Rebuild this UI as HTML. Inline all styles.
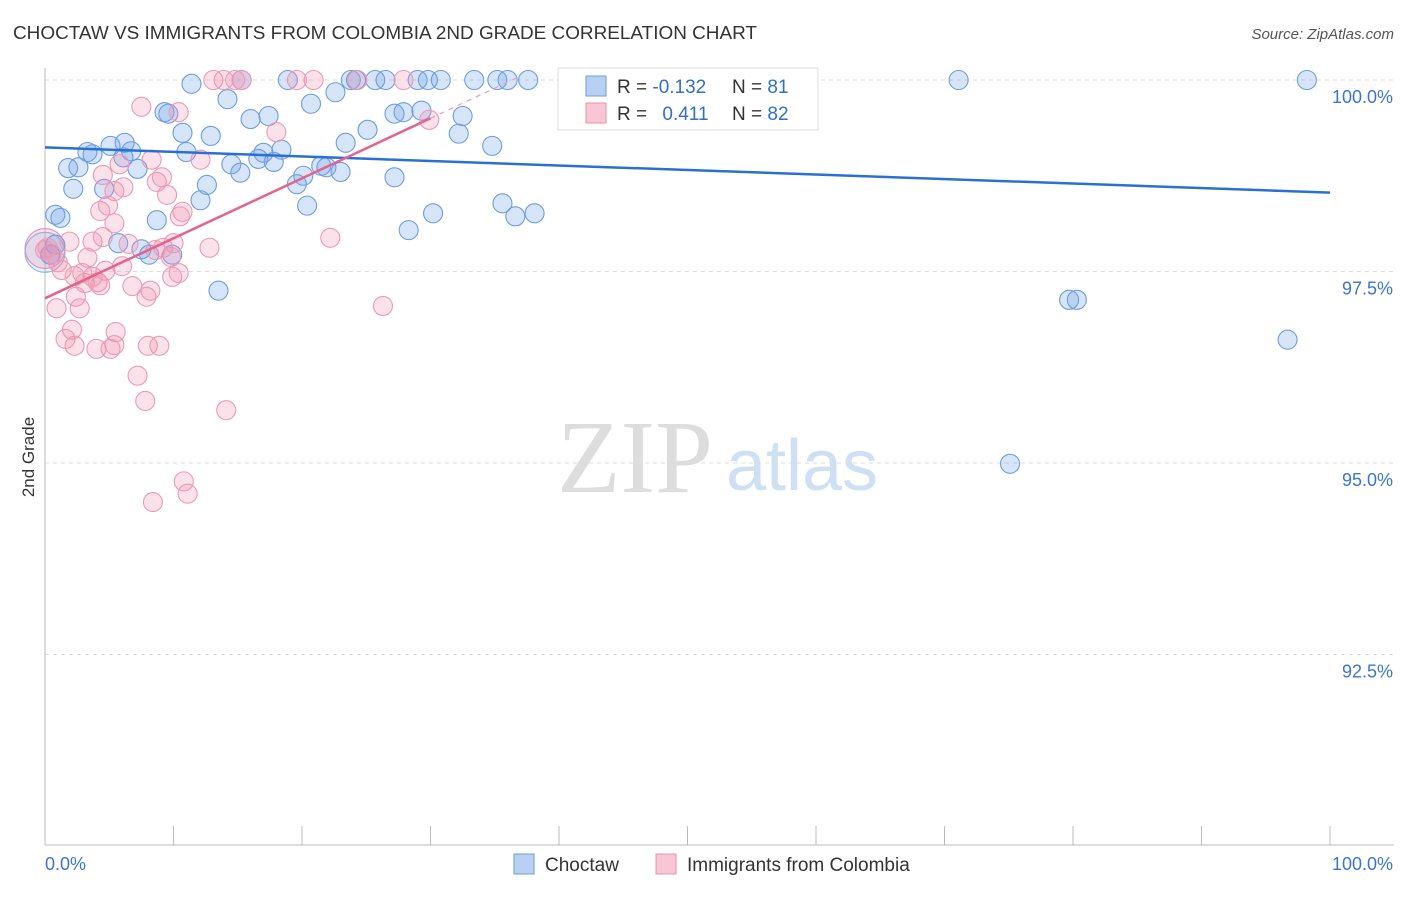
<!DOCTYPE html>
<html><head><meta charset="utf-8"><style>
body{margin:0;background:#fff;font-family:"Liberation Sans",sans-serif;}
</style></head><body>
<svg id="chart" width="1406" height="892" xmlns="http://www.w3.org/2000/svg" font-family="Liberation Sans, sans-serif">
<text x="13" y="39" font-size="18" fill="#333" textLength="744" lengthAdjust="spacingAndGlyphs">CHOCTAW VS IMMIGRANTS FROM COLOMBIA 2ND GRADE CORRELATION CHART</text>
<text x="1394" y="39" font-size="15" fill="#555" text-anchor="end" font-style="italic">Source: ZipAtlas.com</text>
<text transform="translate(34,457) rotate(-90)" font-size="17" fill="#333" text-anchor="middle">2nd Grade</text>
<g>
<text x="635" y="492" font-size="104" fill="#ddd" font-family="Liberation Serif, serif" text-anchor="middle">ZIP</text>
<text x="802" y="490" font-size="72" fill="#cfe0f4" text-anchor="middle">atlas</text>
</g>
<g id="grid"></g><g id="axes"></g><g id="pts"></g><g id="trend"></g>
<g>
<rect x="558" y="68" width="260" height="62" fill="#fff" stroke="#ddd"/>
<rect x="586" y="76" width="20" height="20" fill="#b8d0f2" stroke="#6f9ee0"/>
<rect x="586" y="103" width="20" height="20" fill="#f9c6d5" stroke="#ea93ae"/>
<text x="617" y="93" font-size="19" fill="#333">R = <tspan fill="#2f6fd0">-0.132</tspan></text>
<text x="732" y="93" font-size="19" fill="#333">N = <tspan fill="#2f6fd0">81</tspan></text>
<text x="617" y="120" font-size="19" fill="#333">R = <tspan fill="#2f6fd0" dx="10">0.411</tspan></text>
<text x="732" y="120" font-size="19" fill="#333">N = <tspan fill="#2f6fd0">82</tspan></text>
</g>
<g>
<rect x="514" y="854" width="20" height="20" fill="#b8d0f2" stroke="#6f9ee0"/>
<text x="545" y="871" font-size="19" fill="#333">Choctaw</text>
<rect x="656" y="854" width="20" height="20" fill="#f9c6d5" stroke="#ea93ae"/>
<text x="687" y="871" font-size="19" fill="#333">Immigrants from Colombia</text>
</g>
</svg>
<script>
const blueX=[11.4,15.3,18.9,23.8,24.2,25.7,26.5,29.0,29.8,30.8,33.4,35.2,36.0,37.6,43.2,45.4,71.1,98.2,14.2,22.6,9.3,9.6,20.7,17.4,16.0,27.2,27.9,29.3,32.5,10.7,12.9,25.1,32.2,5.1,6.2,3.3,3.7,6.7,11.0,23.4,34.8,17.0,18.4,1.8,2.6,6.1,14.5,15.2,16.6,17.8,19.6,20.1,21.5,21.9,23.0,27.2,2.2,4.6,7.2,12.6,12.1,20.4,35.6,36.6,38.1,30.2,28.3,0.8,1.2,8.7,8.1,9.9,5.7,7.5,13.5,79.7,80.3,96.7,75.1,0.4,0.8];
const blueY=[99.95,100,100,100,100,100,100,100,100,100,100,100,100,100,100,100,100,100,99.75,99.84,99.58,99.56,99.69,99.53,99.49,99.56,99.58,99.60,99.53,99.31,99.27,99.35,99.30,99.14,99.18,99.06,99.03,99.07,99.06,99.18,99.14,99.05,99.09,98.85,98.86,98.99,98.90,98.79,98.97,98.93,98.64,98.75,98.88,98.86,98.80,98.73,98.58,98.58,98.84,98.63,98.43,98.36,98.39,98.22,98.26,98.26,98.04,98.24,98.20,98.17,97.72,97.72,97.87,97.79,97.25,97.13,97.13,96.61,94.99,97.72,97.85];
const pinkX=[13.1,13.9,15.3,19.6,20.9,24.3,27.9,14.8,7.5,10.4,18.0,29.9,8.3,12.1,5.8,4.5,8.7,9.1,6.1,5.4,9.5,4.3,4.9,10.7,10.5,5.4,22.2,12.8,1.9,3.7,4.5,6.5,9.2,10.0,9.8,3.3,0.2,0.5,1.0,1.3,6.0,8.6,2.3,3.1,4.1,4.7,6.8,7.9,8.2,2.9,3.7,4.3,2.4,2.7,0.9,26.3,5.5,2.1,1.6,2.3,4.0,5.1,5.4,8.0,8.9,7.2,7.8,14.1,10.8,11.1,8.4,9.9,10.4,0.0];
const pinkY=[100,100,100,100,100,100,100,100,99.65,99.58,99.32,99.48,98.96,98.96,98.90,98.76,98.67,98.73,98.60,98.55,98.50,98.29,98.36,98.28,98.22,98.13,97.94,97.81,97.89,97.89,97.95,97.86,97.81,97.87,97.69,97.68,97.81,97.73,97.62,97.52,97.57,97.78,97.44,97.35,97.36,97.51,97.31,97.17,97.25,97.48,97.43,97.32,97.17,97.02,97.02,97.05,96.71,96.74,96.62,96.53,96.49,96.49,96.54,96.53,96.53,96.14,95.81,95.69,94.76,94.60,94.49,97.43,97.48,97.78];
const bigX=[0.0,0.0];
const bigY=[97.8,97.75];
const yTicks=[100,97.5,95,92.5];
const yTickLabels=["100.0%","97.5%","95.0%","92.5%"];
const xTickLabels=["0.0%","100.0%"];
const blueTrend=[[0,99.12],[100,98.53]];
const pinkTrend=[[0,97.15],[30,99.50]];
const pinkDash=[[30,99.50],[37,100.05]];
const X0=45,X1=1330,Y100=80,PPY=76.6;
const sx=v=>X0+(X1-X0)*v/100;
const sy=v=>Y100+(100-v)*PPY;
const NS="http://www.w3.org/2000/svg";
function mk(tag,attrs,parent){const e=document.createElementNS(NS,tag);for(const k in attrs)e.setAttribute(k,attrs[k]);document.getElementById(parent).appendChild(e);return e;}
yTicks.forEach((t,i)=>{
 const g=mk('line',{x1:X0,x2:1394,y1:sy(t),y2:sy(t),stroke:'#ddd','stroke-dasharray':'4,4'},'grid');
 
 
 const tx=mk('text',{x:1393,y:sy(t)+23,'font-size':18,fill:'#3a75d0','text-anchor':'end'},'axes');
 tx.textContent=yTickLabels[i];
 
 
});
let ax=mk('line',{x1:X0,x2:X0,y1:68,y2:845,stroke:'#bbb'},'axes');


ax=mk('line',{x1:X0,x2:1394,y1:845,y2:845,stroke:'#bbb'},'axes');


for(let i=0;i<=10;i++){const t=mk('line',{x1:sx(i*10),x2:sx(i*10),y1:826,y2:845,stroke:'#bbb'},'axes');
 
 }
[[0,'start',45],[100,'end',1393]].forEach((d,i)=>{const t=mk('text',{x:d[2],y:870,'font-size':18,fill:'#3a75d0','text-anchor':d[1]},'axes');t.textContent=xTickLabels[i];
 
 });
function dots(xs,ys,fill,stroke,name,r){xs.forEach((x,i)=>{const c=mk('circle',{cx:sx(x),cy:sy(ys[i]),r:r,fill:fill,stroke:stroke,'stroke-width':1.1},'pts');
 
 });}
dots(bigX.slice(0,1),bigY.slice(0,1),'rgba(240,140,170,0.25)','#ea8fab','colombia-big-point',20);
dots(bigX.slice(1),bigY.slice(1),'rgba(110,160,230,0.15)','#8fb0e0','choctaw-big-point',20);
dots(blueX,blueY,'rgba(110,160,230,0.28)','#6d9ce0','choctaw-point',9.5);
dots(pinkX,pinkY,'rgba(240,140,170,0.25)','#ec9ab3','colombia-point',9.5);
function line(p,col,w,dash,name){const l=mk('line',{x1:sx(p[0][0]),y1:sy(p[0][1]),x2:sx(p[1][0]),y2:sy(p[1][1]),stroke:col,'stroke-width':w},'trend');if(dash)l.setAttribute('stroke-dasharray',dash);
 
 }
line(blueTrend,'#2a6fd6',2.5,null,'choctaw-trend-line');
line(pinkTrend,'#e5628f',2.5,null,'colombia-trend-line');
line(pinkDash,'#eaa0b8',1.2,'5,5','colombia-trend-extension');
</script>
</body></html>
